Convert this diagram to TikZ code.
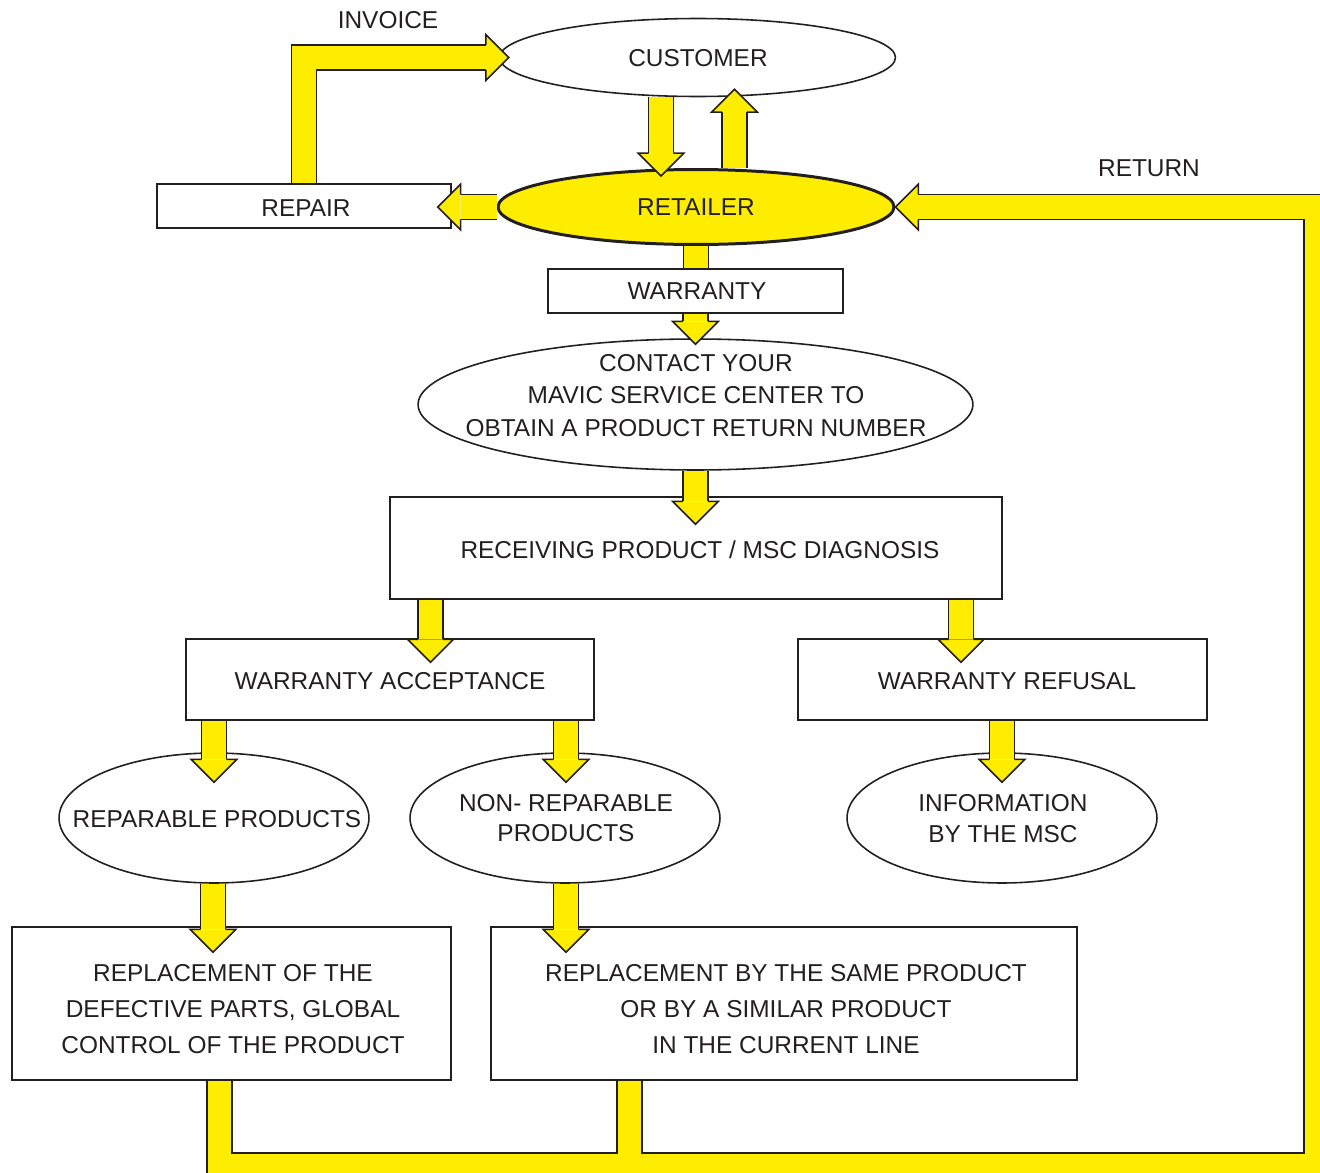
\documentclass[tikz,border=0pt]{standalone}
\usepackage{fontspec}
\setmainfont{Liberation Sans}
\usetikzlibrary{shapes.geometric,calc}
\definecolor{ln}{HTML}{231F20}
\definecolor{yel}{HTML}{FFED00}
\def\ahl{13.04pt}
\def\ahw{13.04pt}
\def\ase{7.09pt}
\newcommand\bhead[2]{%
  \path[fill=yel] ($(#2)!\ahl!(#1)!\ase!90:(#2)$) -- ($(#2)!\ahl!(#1)!\ahw!90:(#2)$) -- (#2) -- ($(#2)!\ahl!(#1)!\ahw!-90:(#2)$) -- ($(#2)!\ahl!(#1)!\ase!-90:(#2)$) -- cycle;
  \draw[headline] ($(#2)!\ahl!(#1)!\ase!90:(#2)$) -- ($(#2)!\ahl!(#1)!\ahw!90:(#2)$) -- (#2) -- ($(#2)!\ahl!(#1)!\ahw!-90:(#2)$) -- ($(#2)!\ahl!(#1)!\ase!-90:(#2)$);}
\newcommand\barrow[2]{%
  \draw[shaftout] (#1) -- ($(#2)!\ahl!(#1)$);
  \draw[shaftin] (#1) -- ($(#2)!\ahl!(#1)$);
  \bhead{#1}{#2}}
\tikzset{
  box/.style={draw=ln, line width=0.9pt, fill=white, rectangle, inner sep=0pt},
  ell/.style={draw=ln, line width=0.9pt, fill=white, ellipse, inner sep=0pt},
  txt/.style={text=ln, align=center, inner sep=0pt, font=\fontsize{13.9}{17}\selectfont},
  txt3/.style={txt, font=\fontsize{13.9}{20.6}\selectfont},
  shaftout/.style={draw=ln, line width=15.02pt},
  shaftin/.style={draw=yel, line width=13.32pt},
  headline/.style={draw=ln, line width=0.85pt, line join=miter},
}
\begin{document}
\begin{tikzpicture}[x=0.02cm,y=-0.02cm]
\useasboundingbox (0,0) rectangle (1320,1173);
\clip (0,0) rectangle (1320,1173);
% nodes
\node[ell, minimum width=7.92cm, minimum height=1.56cm] (cust) at (697.5,57.5) {};
\node[txt] (custt) at (698,58) {CUSTOMER};
\node[ell, fill=yel, line width=1.7pt, minimum width=7.92cm, minimum height=1.50cm] (ret) at (696,207) {};
\node[txt] (rett) at (696,207) {RETAILER};
\node[box, minimum width=5.88cm, minimum height=0.88cm] (repair) at (304,206) {};
\node[txt] (repairt) at (306,208) {REPAIR};
\node[box, minimum width=5.90cm, minimum height=0.88cm] (warr) at (695.5,291) {};
\node[txt] (warrt) at (697,291) {WARRANTY};
\node[ell, minimum width=11.10cm, minimum height=2.62cm] (contact) at (695.5,404.5) {};
\node[txt, font=\fontsize{13.9}{18.4}\selectfont] (contactt) at (696,395.5) {CONTACT YOUR\\MAVIC SERVICE CENTER TO\\OBTAIN A PRODUCT RETURN NUMBER};
\node[box, minimum width=12.24cm, minimum height=2.04cm] (recv) at (696,548) {};
\node[txt] (recvt) at (700,550) {RECEIVING PRODUCT / MSC DIAGNOSIS};
\node[box, minimum width=8.16cm, minimum height=1.62cm] (acc) at (390,679.5) {};
\node[txt] (acct) at (390,681) {WARRANTY ACCEPTANCE};
\node[box, minimum width=8.18cm, minimum height=1.62cm] (ref) at (1002.5,679.5) {};
\node[txt] (reft) at (1007,681) {WARRANTY REFUSAL};
\node[ell, minimum width=6.20cm, minimum height=2.60cm] (repa) at (214,818) {};
\node[txt] (repat) at (217,819) {REPARABLE PRODUCTS};
\node[ell, minimum width=6.20cm, minimum height=2.60cm] (nonrep) at (565,818) {};
\node[txt, font=\fontsize{13.9}{17.3}\selectfont] (nonrept) at (566,818) {NON- REPARABLE\\PRODUCTS};
\node[ell, minimum width=6.20cm, minimum height=2.60cm] (info) at (1002,818) {};
\node[txt, font=\fontsize{13.9}{17.3}\selectfont] (infot) at (1003,818.5) {INFORMATION\\BY THE MSC};
\node[box, minimum width=8.78cm, minimum height=3.06cm] (rep1) at (231.5,1003.5) {};
\node[txt3] (rep1t) at (233,1009) {REPLACEMENT OF THE\\DEFECTIVE PARTS, GLOBAL\\CONTROL OF THE PRODUCT};
\node[box, minimum width=11.72cm, minimum height=3.06cm] (rep2) at (784,1003.5) {};
\node[txt3] (rep2t) at (786,1009) {REPLACEMENT BY THE SAME PRODUCT\\OR BY A SIMILAR PRODUCT\\IN THE CURRENT LINE};
\node[txt] (invl) at (388,20) {INVOICE};
\node[txt] (retl) at (1149,168) {RETURN};
% return path
\coordinate (rtA) at ($(rep1.south)+(-12,0)$);
\coordinate (rtB) at ($(rep2.south)+(-154.5,0)$);
\coordinate (rtT) at (ret.east);
\coordinate (rtK) at (1316.5,1165.5);
\coordinate (rtC) at (rtK |- rtT);
\coordinate (rtE) at ($(rtT)!\ahl!(rtC)$);
\draw[shaftout] (rtA) -- (rtA |- rtK) -- (rtK) -- (rtC) -- (rtE);
\draw[shaftout] (rtB) -- (rtB |- rtK);
\draw[shaftin] (rtA) -- (rtA |- rtK) -- (rtK) -- (rtC) -- (rtE);
\draw[shaftin] (rtB) -- (rtB |- rtK);
\bhead{rtC}{rtT}
% invoice path
\path (cust.west) ++(10,0) coordinate (invT);
\coordinate (invC) at (repair.north |- invT);
\coordinate (invE) at ($(invT)!\ahl!(invC)$);
\draw[shaftout] (repair.north) -- (invC) -- (invE);
\draw[shaftin] (repair.north) -- (invC) -- (invE);
\bhead{invC}{invT}
% straight arrows
\coordinate (a1s) at ($(cust.south)+(-36.5,0)$);
\path (a1s |- ret.north) ++(0,8) coordinate (a1t);
\barrow{a1s}{a1t}
\coordinate (a2s) at ($(ret.north)+(38.5,0)$);
\path (a2s |- cust.south) ++(0,-8) coordinate (a2t);
\barrow{a2s}{a2t}
\coordinate (a3s) at (ret.west);
\path (ret.west -| repair.east) ++(-14,0) coordinate (a3t);
\barrow{a3s}{a3t}
\coordinate (a4s) at (ret.south);
\coordinate (a4t) at (ret.south |- warr.north);
\draw[shaftout] (a4s) -- (a4t);
\draw[shaftin] (a4s) -- (a4t);
\coordinate (a5s) at (warr.south);
\path (warr.south |- contact.north) ++(0,6) coordinate (a5t);
\barrow{a5s}{a5t}
\coordinate (a6s) at (contact.south);
\path (contact.south |- recv.north) ++(0,28) coordinate (a6t);
\barrow{a6s}{a6t}
\coordinate (a7s) at ($(recv.south)+(-265.5,0)$);
\path (a7s |- acc.north) ++(0,24) coordinate (a7t);
\barrow{a7s}{a7t}
\coordinate (a8s) at ($(recv.south)+(265,0)$);
\path (a8s |- ref.north) ++(0,24) coordinate (a8t);
\barrow{a8s}{a8t}
\coordinate (a9s) at ($(acc.south)+(-176,0)$);
\path (a9s |- repa.north) ++(0,30) coordinate (a9t);
\barrow{a9s}{a9t}
\coordinate (a10s) at ($(acc.south)+(176,0)$);
\path (a10s |- nonrep.north) ++(0,30) coordinate (a10t);
\barrow{a10s}{a10t}
\coordinate (a11s) at ($(ref.south)+(-0.5,0)$);
\path (a11s |- info.north) ++(0,30) coordinate (a11t);
\barrow{a11s}{a11t}
\coordinate (a12s) at ($(repa.south)+(-1,0)$);
\path (a12s |- rep1.north) ++(0,26) coordinate (a12t);
\barrow{a12s}{a12t}
\coordinate (a13s) at ($(nonrep.south)+(1,0)$);
\path (a13s |- rep2.north) ++(0,26) coordinate (a13t);
\barrow{a13s}{a13t}
\end{tikzpicture}
\end{document}
